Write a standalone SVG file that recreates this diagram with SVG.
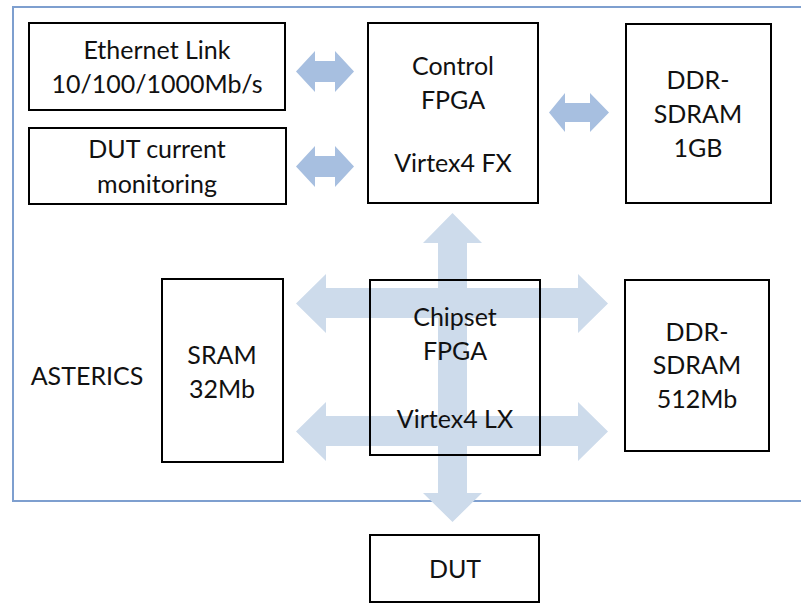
<svg xmlns="http://www.w3.org/2000/svg" width="801" height="603" viewBox="0 0 801 603">
<style>
.box{fill:none;stroke:#000;stroke-width:2}
.t{font-family:Lato,"Liberation Sans",sans-serif;font-size:25px;fill:#111;text-anchor:middle}
.sa{fill:#a7bfe0}
.ca{fill:#cddbeb}
</style>
<rect x="0" y="0" width="801" height="603" fill="#fff"/>
<rect id="frame" x="13" y="7" width="800" height="494" fill="none" stroke="#7e9fcf" stroke-width="2"/>
<g id="connectors">
<path class="ca" d="M452.5,213 L482,243 L467,243 L467,288 L578,288 L578,274 L608,303.5 L578,333 L578,318 L467,318 L467,416 L578,416 L578,402 L608,431.5 L578,461 L578,446 L467,446 L467,493 L482,493 L452.5,522 L423,493 L438,493 L438,446 L326,446 L326,461 L296,431.5 L326,402 L326,416 L438,416 L438,318 L326,318 L326,333 L296,303.5 L326,274 L326,288 L438,288 L438,243 L423,243 Z"/>
<path class="sa" d="M296,71.5 L315,51 L315,61 L335,61 L335,51 L354,71.5 L335,92 L335,82 L315,82 L315,92 Z"/>
<path class="sa" d="M296,166.5 L315,146 L315,156 L335,156 L335,146 L354,166.5 L335,187 L335,177 L315,177 L315,187 Z"/>
<path class="sa" d="M549,112.5 L565,93 L565,103 L590,103 L590,93 L609,112.5 L590,132 L590,122 L565,122 L565,132 Z"/>
</g>
<g id="ethernet">
<rect class="box" x="29" y="23" width="256" height="87"/>
<text class="t" x="157" y="59">Ethernet Link</text>
<text class="t" x="157" y="93">10/100/1000Mb/s</text>
</g>
<g id="dutcurrent">
<rect class="box" x="29" y="128" width="257" height="76"/>
<text class="t" x="157" y="158">DUT current</text>
<text class="t" x="157" y="193">monitoring</text>
</g>
<g id="control">
<rect class="box" x="368" y="23" width="170" height="180"/>
<text class="t" x="453" y="75">Control</text>
<text class="t" x="453" y="109">FPGA</text>
<text class="t" x="453" y="172">Virtex4 FX</text>
</g>
<g id="ddr1gb">
<rect class="box" x="626" y="24" width="145" height="179"/>
<text class="t" x="698" y="89">DDR-</text>
<text class="t" x="698" y="123">SDRAM</text>
<text class="t" x="698" y="157">1GB</text>
</g>
<g id="asterics">
<text class="t" x="87" y="385">ASTERICS</text>
</g>
<g id="sram">
<rect class="box" x="162" y="279" width="121" height="183"/>
<text class="t" x="222" y="364">SRAM</text>
<text class="t" x="222" y="398">32Mb</text>
</g>
<g id="chipset">
<rect class="box" x="370" y="280" width="170" height="175"/>
<text class="t" x="455" y="326">Chipset</text>
<text class="t" x="455" y="360">FPGA</text>
<text class="t" x="455" y="428">Virtex4 LX</text>
</g>
<g id="ddr512">
<rect class="box" x="625" y="280" width="144" height="171"/>
<text class="t" x="697" y="341">DDR-</text>
<text class="t" x="697" y="374">SDRAM</text>
<text class="t" x="697" y="408">512Mb</text>
</g>
<g id="dut">
<rect class="box" x="370" y="535" width="169" height="67"/>
<text class="t" x="455" y="578">DUT</text>
</g>
</svg>
